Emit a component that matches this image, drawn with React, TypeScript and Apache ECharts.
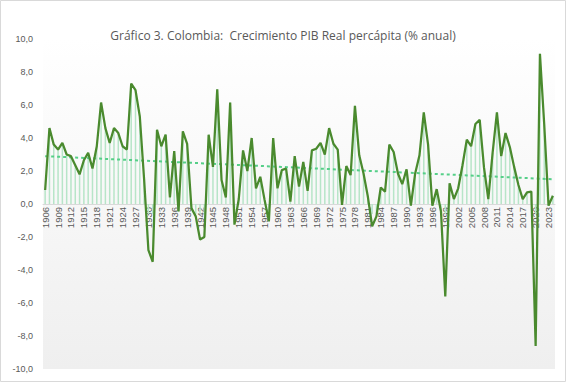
import React, { useEffect, useRef } from "react";
import * as echarts from "echarts";

const startYear = 1906;
const growth: number[] = [
  0.85, 4.6, 3.6, 3.3, 3.7, 3.0, 2.9, 2.35, 1.8, 2.65,
  3.1, 2.15, 3.5, 6.15, 4.6, 3.7, 4.6, 4.3, 3.5, 3.3,
  7.3, 6.9, 5.3, 1.5, -2.8, -3.5, 4.5, 3.5, 4.2, 0.4,
  3.2, -0.45, 4.4, 3.65, -0.25, -0.75, -2.15, -2.0, 4.2, 2.25,
  6.95, 1.45, 0.4, 6.15, -1.25, 0.3, 3.25, 2.0, 4.0, 0.95,
  1.65, 0.25, -1.05, 4.0, 0.95, 2.05, 2.15, 0.15, 2.9, 1.05,
  2.55, 0.8, 3.25, 3.35, 3.7, 3.0, 4.6, 3.65, 3.3, -0.05,
  2.3, 1.75, 5.95, 2.95, 1.85, 0.45, -1.35, -0.75, 1.0, 0.75,
  3.6, 3.15, 1.85, 1.2, 2.1, -0.1, 1.85, 2.95, 5.55, 3.6,
  -0.1, 0.9, -0.45, -5.6, 1.25, 0.3, 0.95, 2.35, 3.9, 3.5,
  4.85, 5.1, 2.2, 0.3, 3.1, 5.55, 2.9, 4.3, 3.45, 2.25,
  1.15, 0.3, 0.7, 0.75, -8.6, 9.1, 4.8, -0.1, 0.5,
];
const years: string[] = growth.map((_, i) => String(startYear + i));
const trendStart = 2.9;
const trendEnd = 1.5;
const yTicks = { min: -10, max: 10, interval: 2 };

const GRID_TOP = 39;
const GRID_BOTTOM = 13;
const CHART_H = 382;

export default function App() {
  const ref = useRef<HTMLDivElement>(null);
  useEffect(() => {
    if (!ref.current) return;
    const chart = echarts.init(ref.current, null, { renderer: "svg" });
    const barData = growth.map((v) => Math.max(v, -0.6));
    const trendData = growth.map((_, i) =>
      i === 0 ? trendStart : i === growth.length - 1 ? trendEnd : null
    );
    const plotH = CHART_H - GRID_TOP - GRID_BOTTOM;
    const zeroFromBottom =
      (plotH * (0 - yTicks.min)) / (yTicks.max - yTicks.min);
    chart.setOption({
      animation: false,
      backgroundColor: "#ffffff",
      title: {
        text: "Gráfico 3. Colombia:  Crecimiento PIB Real percápita (% anual)",
        left: "center",
        top: 24,
        textStyle: {
          fontFamily: "Open Sans",
          fontSize: 12,
          fontWeight: 500,
          color: "#595959",
        },
      },
      graphic: [
        {
          type: "rect",
          shape: { x: 0.5, y: 0.5, width: 565, height: 381 },
          style: { fill: "none", stroke: "#d9d9d9", lineWidth: 1 },
          silent: true,
        },
      ],
      grid: {
        left: 43,
        right: 11,
        top: GRID_TOP,
        bottom: GRID_BOTTOM,
        containLabel: false,
        outerBoundsMode: "none",
        show: true,
        borderWidth: 0,
        backgroundColor: new echarts.graphic.LinearGradient(0, 0, 0, 1, [
          { offset: 0, color: "#ffffff" },
          { offset: 1, color: "#efefef" },
        ]),
      },
      xAxis: {
        type: "category",
        data: years,
        boundaryGap: true,
        position: "bottom",
        offset: -zeroFromBottom,
        axisLine: { onZero: false, lineStyle: { color: "#d9d9d9", width: 1 } },
        axisTick: { show: false },
        axisLabel: {
          interval: 2,
          rotate: 90,
          margin: 3,
          fontFamily: "Liberation Sans",
          fontSize: 9.5,
          color: "#595959",
        },
        splitLine: { show: false },
      },
      yAxis: {
        type: "value",
        min: yTicks.min,
        max: yTicks.max,
        interval: yTicks.interval,
        axisLine: { show: false },
        axisTick: { show: false },
        splitLine: { show: false },
        axisLabel: {
          margin: 10,
          fontFamily: "Liberation Sans",
          fontSize: 9,
          color: "#595959",
          formatter: (v: number) => v.toFixed(1).replace(".", ","),
        },
      },
      series: [
        {
          type: "bar",
          data: barData,
          barWidth: 1.5,
          itemStyle: { color: "#b7e5c8" },
          silent: true,
          z: 1,
        },
        {
          type: "line",
          data: trendData,
          connectNulls: true,
          symbol: "none",
          lineStyle: { color: "#55cf88", width: 2, type: [3, 3] },
          z: 2,
        },
        {
          type: "line",
          data: growth,
          symbol: "none",
          lineStyle: { color: "#4a8a2e", width: 2.25 },
          z: 3,
        },
      ],
    });
    return () => chart.dispose();
  }, []);
  return (
    <div
      ref={ref}
      style={{ position: "fixed", left: 0, top: 0, width: 566, height: 382 }}
    />
  );
}
